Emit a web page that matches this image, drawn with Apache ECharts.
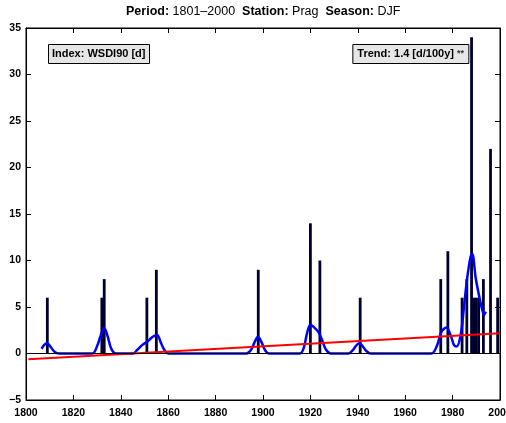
<!DOCTYPE html>
<html>
<head>
<meta charset="utf-8">
<script src="https://cdn.jsdelivr.net/npm/echarts@6/dist/echarts.min.js"></script>
<style>
html,body{margin:0;padding:0;background:#fff;}
#c{width:506px;height:423px;}
</style>
</head>
<body>
<div id="c"></div>
<script>
// ---- data ----
const barYears  = [1809, 1832, 1833, 1851, 1855, 1898, 1920, 1924, 1941, 1975, 1978, 1984, 1986, 1988, 1989, 1990, 1991, 1993, 1996, 1999];
const barValues = [6,    6,    8,    6,    9,    9,    14,   10,   6,    8,    11,   6,    8,    34,   6,    6,    6,    8,    22,   6];

const curveYears  = [1806.6, 1807.6, 1808.9, 1810.4, 1812, 1814,
  1828, 1830, 1831.6, 1833, 1834.5, 1836, 1838,
  1845, 1847, 1849, 1851.3, 1853.5, 1855.3, 1857, 1858.6, 1860,
  1893, 1895, 1896.6, 1897.9, 1899.4, 1901, 1902.6,
  1915.6, 1917.2, 1918.6, 1920, 1921.6, 1923.4, 1925, 1926.6, 1928.6,
  1936, 1938, 1939.5, 1940.7, 1942, 1943.5, 1945.4,
  1971, 1973.5, 1975.2, 1977.4, 1979.4, 1980.6, 1981.7, 1983.4, 1984.8, 1986.2, 1987.6, 1988.3, 1989.7, 1991.1, 1992.5, 1993.3, 1994];
const curveValues = [0.5, 0.9, 1.1, 0.7, 0.2, 0,
  0, 0.8, 2.0, 2.75, 1.8, 0.5, 0,
  0, 0.4, 0.9, 1.3, 1.8, 2.0, 1.1, 0.3, 0,
  0, 0.4, 1.3, 1.8, 1.2, 0.3, 0,
  0, 0.6, 2.2, 3.1, 2.8, 2.3, 1.4, 0.4, 0,
  0, 0.4, 0.9, 1.1, 0.8, 0.3, 0,
  0, 0.9, 2.3, 2.8, 1.8, 0.9, 0.75, 2.0, 5.0, 8.2, 10.4, 10.7, 8.2, 6.3, 4.7, 4.15, 4.5];

const trendYears  = [1801, 2000];
const trendValues = [-0.63, 2.17];

const xTicks = {min: 1800, max: 2000, step: 20};
const yTicks = {min: -5, max: 35, step: 5};

const titleParts = [['Period:', ' 1801–2000  '], ['Station:', ' Prag  '], ['Season:', ' DJF']];
const indexLabel = 'Index: WSDI90 [d]';
const trendLabel = 'Trend: 1.4 [d/100y]';
const trendSig = '**';

// ---- chart ----
const FONT = "'Liberation Sans', Arial, Helvetica, sans-serif";
const zip = (a, b) => a.map((v, i) => [v, b[i]]);

function axisCommon() {
  return {
    show: true,
    axisLine: {show: true, onZero: false, lineStyle: {color: '#000', width: 1}},
    axisTick: {show: true, inside: true, length: 5, lineStyle: {color: '#000', width: 1}},
    splitLine: {show: false}
  };
}
const labelStyle = {color: '#000', fontFamily: FONT, fontWeight: 'bold', fontSize: 10.5};

const titleRich = {b: {fontFamily: FONT, fontWeight: 'bold', fontSize: 12.5, color: '#000'},
                   n: {fontFamily: FONT, fontWeight: 'normal', fontSize: 12.5, color: '#000'}};
const titleText = titleParts.map(p => '{b|' + p[0] + '}{n|' + p[1] + '}').join('');

const boxText = {fontFamily: FONT, fontWeight: 'bold', fontSize: 11, color: '#000', lineHeight: 12};

const chart = echarts.init(document.getElementById('c'), null, {renderer: 'canvas'});
chart.setOption({
  animation: false,
  backgroundColor: '#fff',
  grid: {left: 26, right: 6, top: 28, bottom: 23, containLabel: false, outerBoundsMode: 'none',
         show: true, borderColor: '#000', borderWidth: 1, backgroundColor: 'transparent'},
  title: [
    {text: titleText, left: 126, top: 5, padding: 0, textStyle: {rich: titleRich}},
    {text: indexLabel, left: 48, top: 44, padding: [4, 4, 4, 4],
     backgroundColor: '#e6e6e6', borderColor: '#000', borderWidth: 1,
     textStyle: boxText},
    {text: '{t|' + trendLabel + ' }{s|' + trendSig + '}', right: 37, top: 44, padding: [4, 5, 4, 5],
     backgroundColor: '#e6e6e6', borderColor: '#000', borderWidth: 1,
     textStyle: {lineHeight: 12, rich: {t: boxText,
                        s: {fontFamily: FONT, fontWeight: 'bold', fontSize: 9, color: '#333', lineHeight: 12}}}}
  ],
  xAxis: [
    Object.assign(axisCommon(), {type: 'value', gridIndex: 0, position: 'bottom', min: xTicks.min, max: xTicks.max, interval: xTicks.step,
      axisLabel: Object.assign({margin: 8, formatter: v => String(v)}, labelStyle)}),
    Object.assign(axisCommon(), {type: 'value', gridIndex: 0, position: 'top', min: xTicks.min, max: xTicks.max, interval: xTicks.step,
      axisLabel: {show: false}})
  ],
  yAxis: [
    Object.assign(axisCommon(), {type: 'value', gridIndex: 0, position: 'left', min: yTicks.min, max: yTicks.max, interval: yTicks.step,
      axisLabel: Object.assign({margin: 5, formatter: v => String(v).replace('-', '\u2212')}, labelStyle)}),
    Object.assign(axisCommon(), {type: 'value', gridIndex: 0, position: 'right', min: yTicks.min, max: yTicks.max, interval: yTicks.step,
      axisLabel: {show: false}})
  ],
  series: [
    {type: 'bar', xAxisIndex: 0, yAxisIndex: 0, data: zip(barYears, barValues),
     barWidth: 2.8, itemStyle: {color: '#00002e'}, z: 2,
     markLine: {silent: true, symbol: 'none', label: {show: false},
       lineStyle: {color: '#000', width: 1, type: 'solid'}, data: [{yAxis: 0}]}},
    {type: 'line', xAxisIndex: 1, yAxisIndex: 1, data: zip(curveYears, curveValues), smooth: 0.35, showSymbol: false,
     lineStyle: {color: '#0000ff', width: 2.5}, z: 3},
    {type: 'line', xAxisIndex: 1, yAxisIndex: 1, data: zip(trendYears, trendValues), showSymbol: false,
     lineStyle: {color: '#ff0000', width: 2}, z: 4}
  ]
});
</script>
</body>
</html>
